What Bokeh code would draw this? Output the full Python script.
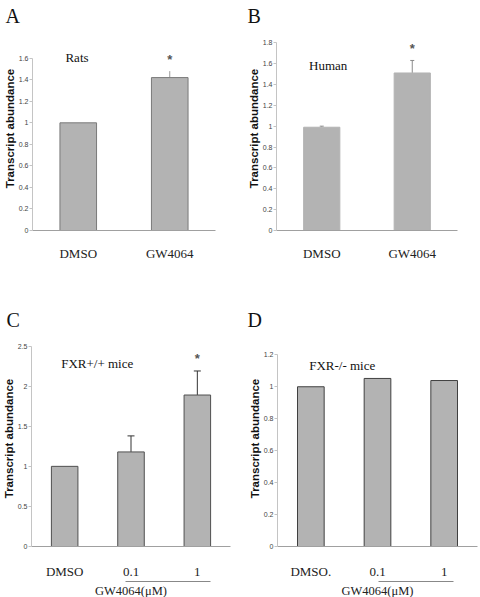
import numpy as np
from bokeh.plotting import figure
from bokeh.layouts import column, row
from bokeh.models import (Range1d, FixedTicker, Label, LinearAxis, Whisker,
                          ColumnDataSource, TeeHead, Title)
from bokeh.embed import file_html
from bokeh.resources import INLINE

# ---------------- data ----------------
rats_cats = ["DMSO", "GW4064"]
rats_vals = [1.0, 1.42]
rats_errs = [0.0, 0.06]
rats_ticks = [0, 0.2, 0.4, 0.6, 0.8, 1.0, 1.2, 1.4, 1.6]
rats_tick_labels = ["0", "0.2", "0.4", "0.6", "0.8", "1", "1.2", "1.4", "1.6"]

human_cats = ["DMSO", "GW4064"]
human_vals = [0.99, 1.51]
human_errs = [0.01, 0.12]
human_ticks = [0, 0.2, 0.4, 0.6, 0.8, 1.0, 1.2, 1.4, 1.6, 1.8]
human_tick_labels = ["0", "0.2", "0.4", "0.6", "0.8", "1", "1.2", "1.4", "1.6", "1.8"]

wt_cats = ["DMSO", "0.1", "1"]
wt_vals = [1.0, 1.18, 1.89]
wt_errs = [0.0, 0.2, 0.3]
wt_ticks = [0, 0.5, 1.0, 1.5, 2.0, 2.5]
wt_tick_labels = ["0", "0.5", "1", "1.5", "2", "2.5"]

ko_cats = ["DMSO.", "0.1", "1"]
ko_vals = [1.0, 1.052, 1.039]
ko_errs = [0.0, 0.0, 0.0]
ko_ticks = [0, 0.2, 0.4, 0.6, 0.8, 1.0, 1.2]
ko_tick_labels = ["0", "0.2", "0.4", "0.6", "0.8", "1", "1.2"]

group_label = "GW4064(\u03bcM)"
YLABEL = "Transcript abundance"
SERIF = "Liberation Serif"
TICKFONT = "Liberation Sans Narrow, Liberation Sans, Arial"


def panel(letter, subtitle, cats, vals, errs, ticks, tick_labels, star_idx,
          w, h, frame, top_tick_px, xmax, letter_off, sub_pos, ylab_off,
          bar_line, err_color, err_head, xlab_standoff, group=None):
    # frame = (left, right, top, bottom) in canvas pixels
    fl, fr, ft, fb = frame
    n = len(cats)
    xs = [i + 0.5 for i in range(n)]
    ymax = ticks[-1] * (fb - ft) / (fb - top_tick_px)
    p = figure(width=w, height=h, output_backend="svg", toolbar_location=None,
               x_range=Range1d(0, xmax), y_range=Range1d(0, ymax),
               min_border_left=fl, min_border_right=w - fr,
               min_border_top=ft, min_border_bottom=h - fb,
               x_axis_type=None, y_axis_type=None)
    p.outline_line_color = None
    p.grid.visible = False
    p.background_fill_color = "white"
    p.border_fill_color = "white"

    # panel letter as title
    p.title.text = letter
    p.title.align = "left"
    p.title.offset = letter_off
    p.title.standoff = 0
    p.title.text_font = SERIF
    p.title.text_font_style = "normal"
    p.title.text_font_size = "20px"
    p.title.text_color = "#111111"

    # y axis
    ya = LinearAxis(ticker=FixedTicker(ticks=ticks), bounds=(ticks[0], ticks[-1]),
                    major_label_overrides={t: l for t, l in zip(ticks, tick_labels)})
    ya.axis_line_color = "#c4c4c4"
    ya.major_tick_line_color = "#c4c4c4"
    ya.major_tick_out = 3
    ya.major_tick_in = 0
    ya.minor_tick_line_color = None
    ya.major_label_standoff = 1
    ya.major_label_text_font = TICKFONT
    ya.major_label_text_font_size = "7px"
    ya.major_label_text_color = "#444444"
    p.add_layout(ya, "left")

    yt = Title(text=YLABEL, align="center", offset=ylab_off, standoff=0,
               text_font="Liberation Sans", text_font_style="bold",
               text_font_size="11.5px", text_line_height=0.8, text_color="#111111")
    p.add_layout(yt, "left")

    # x axis
    xa = LinearAxis(ticker=FixedTicker(ticks=xs),
                    major_label_overrides={x: c for x, c in zip(xs, cats)})
    xa.axis_line_color = "#a0a0a0"
    xa.major_tick_line_color = None
    xa.minor_tick_line_color = None
    xa.major_tick_out = 0
    xa.major_tick_in = 0
    xa.major_label_standoff = xlab_standoff
    xa.major_label_text_font = SERIF
    xa.major_label_text_font_size = "13px"
    xa.major_label_text_color = "#222222"
    p.add_layout(xa, "below")

    if group is not None:
        ga = LinearAxis(ticker=FixedTicker(ticks=[]), bounds=group["bounds"])
        ga.axis_line_color = "#888888"
        ga.major_tick_line_color = None
        ga.minor_tick_line_color = None
        ga.major_label_text_font_size = "0px"
        p.add_layout(ga, "below")
        gt = Title(text=group_label, align="center", offset=group["offset"], standoff=0,
                   text_font=SERIF, text_font_style="normal",
                   text_font_size="12.5px", text_color="#222222")
        p.add_layout(gt, "below")

    src = ColumnDataSource(dict(x=xs, top=vals))
    p.vbar(x="x", top="top", width=0.4, bottom=0, source=src,
           fill_color="#b3b3b3", line_color=bar_line, line_width=1)

    keep = [i for i in range(n) if errs[i] > 0]
    wsrc = ColumnDataSource(dict(x=[xs[i] for i in keep],
                                 lo=[vals[i] for i in keep],
                                 hi=[vals[i] + errs[i] for i in keep]))
    wh = Whisker(base="x", lower="lo", upper="hi", source=wsrc,
                 line_color=err_color, line_width=1,
                 upper_head=TeeHead(size=err_head, line_color=err_color, line_width=1),
                 lower_head=None)
    p.add_layout(wh)

    for i in star_idx:
        p.add_layout(Label(x=xs[i], y=vals[i] + errs[i], y_offset=12, text="*",
                           text_align="center", text_baseline="middle",
                           text_font="Liberation Sans", text_font_size="13px",
                           text_font_style="bold", text_color="#555555"))

    p.add_layout(Label(x=sub_pos[0], y=sub_pos[1], x_units="canvas", y_units="canvas",
                       text=subtitle, text_font=SERIF, text_font_size="13px",
                       text_align="center", text_baseline="alphabetic", text_color="#111111"))
    return p


pA = panel("A", "Rats", rats_cats, rats_vals, rats_errs, rats_ticks, rats_tick_labels,
           [1], 240, 298, (32, 215, 26, 230), 57.7, 2,
           -27, (76.5, 57), -17, "#7a7a7a", "#9a9a9a", 0, 15)
pB = panel("B", "Human", human_cats, human_vals, human_errs, human_ticks, human_tick_labels,
           [1], 240, 298, (36, 217, 26, 231), 42.3, 2,
           -29, (87.7, 65), -16, "#b3b3b3", "#8a8a8a", 4, 15)
pC = panel("C", "FXR+/+ mice", wt_cats, wt_vals, wt_errs, wt_ticks, wt_tick_labels,
           [2], 240, 299, (30, 230, 32, 249), 47.7, 3,
           -25, (96.7, 65), -2, "#505050", "#333333", 7, 17,
           group=dict(bounds=(1.42, 2.7), offset=36.7))
pD = panel("D", "FXR-/- mice", ko_cats, ko_vals, ko_errs, ko_ticks, ko_tick_labels,
           [], 240, 299, (37, 237, 32, 248), 56.3, 3,
           -30, (101.7, 67), -18, "#404040", "#333333", 7, 17,
           group=dict(bounds=(1.52, 2.64), offset=38.8))

layout = column(row(pA, pB, spacing=0), row(pC, pD, spacing=0), spacing=0)
open("out.html", "w").write(file_html(layout, INLINE))
